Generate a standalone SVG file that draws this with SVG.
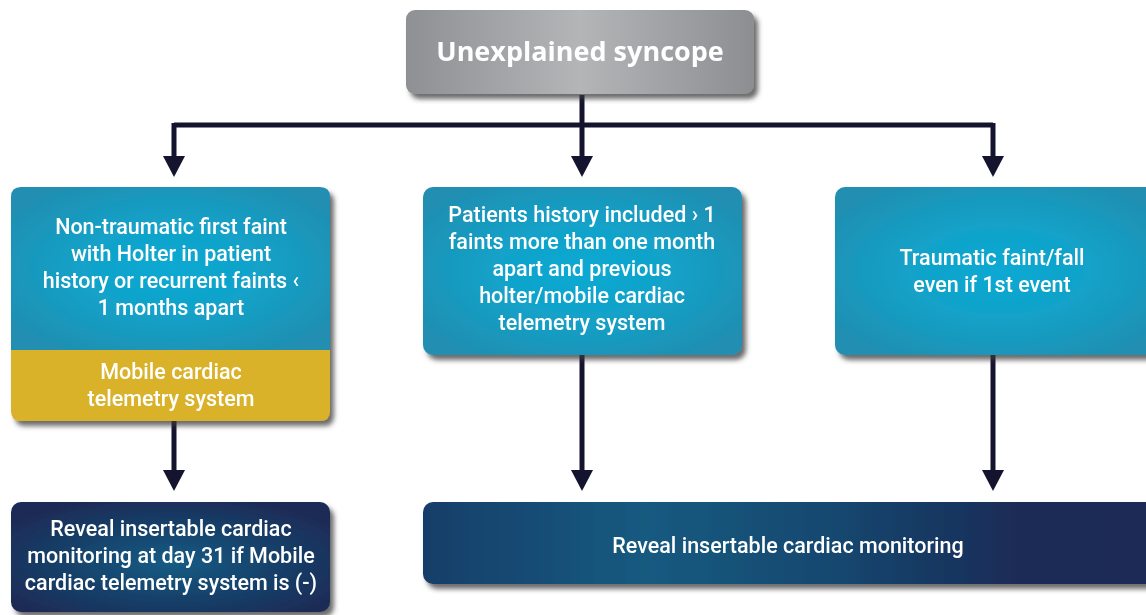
<svg xmlns="http://www.w3.org/2000/svg" width="1146" height="615" viewBox="0 0 1146 615">
<defs>
<style>
.t{font-family:Roboto,"Liberation Sans",sans-serif;font-weight:500;font-size:21.5px;fill:#ffffff;text-anchor:middle}
.title{font-family:"Open Sans","Liberation Sans",sans-serif;font-weight:700;font-size:27px;fill:#ffffff;text-anchor:middle}
.con{fill:none;stroke:#14142e;stroke-width:5}
</style>
<filter id="sh" x="-10%" y="-10%" width="125%" height="130%">
<feDropShadow dx="4" dy="5" stdDeviation="2.5" flood-color="#3a3a3a" flood-opacity="0.75"/>
</filter>
<linearGradient id="gray" x1="0" y1="0" x2="1" y2="0">
<stop offset="0" stop-color="#8e9093"/>
<stop offset="0.5" stop-color="#b4b5b7"/>
<stop offset="1" stop-color="#8c8e91"/>
</linearGradient>
<radialGradient id="blue" cx="0.5" cy="0.5" r="0.6">
<stop offset="0" stop-color="#0ba9d3"/>
<stop offset="0.45" stop-color="#12a2c9"/>
<stop offset="1" stop-color="#208fb2"/>
</radialGradient>
<radialGradient id="navy" cx="0.5" cy="0.55" r="0.6">
<stop offset="0" stop-color="#135c84"/>
<stop offset="0.5" stop-color="#17436c"/>
<stop offset="1" stop-color="#1b2c57"/>
</radialGradient>
<linearGradient id="navyw" x1="0" y1="0" x2="1" y2="0">
<stop offset="0" stop-color="#183e69"/>
<stop offset="0.3" stop-color="#125a80"/>
<stop offset="0.55" stop-color="#134870"/>
<stop offset="0.8" stop-color="#1b2c57"/>
<stop offset="1" stop-color="#1c2b55"/>
</linearGradient>
<marker id="ah" viewBox="0 0 22 22" markerUnits="userSpaceOnUse" markerWidth="22" markerHeight="22" refX="10" refY="11" orient="auto">
<path d="M0,0 L21,11 L0,22 Z" fill="#14142e"/>
</marker>
</defs>
<rect width="1146" height="615" fill="#ffffff"/>

<g id="connectors">
<path class="con" d="M174,125 H993"/>
<path class="con" d="M582,95 V166" marker-end="url(#ah)"/>
<path class="con" d="M174,123 V166" marker-end="url(#ah)"/>
<path class="con" d="M993,123 V166" marker-end="url(#ah)"/>
<path class="con" d="M174,420 V480" marker-end="url(#ah)"/>
<path class="con" d="M582,355 V480" marker-end="url(#ah)"/>
<path class="con" d="M993,355 V480" marker-end="url(#ah)"/>
</g>

<g id="n-start" filter="url(#sh)">
<rect x="406" y="10" width="348" height="84" rx="9" fill="url(#gray)"/>
<text class="title" x="580" y="61">Unexplained syncope</text>
</g>

<g id="n-left" filter="url(#sh)">
<path d="M11,350 V197 Q11,187 21,187 H320 Q330,187 330,197 V350 Z" fill="url(#blue)"/>
<path d="M11,350 H330 V411 Q330,421 320,421 H21 Q11,421 11,411 Z" fill="#dab22a"/>
<text class="t" x="171" y="234">Non-traumatic first faint</text>
<text class="t" x="171" y="261">with Holter in patient</text>
<text class="t" x="171" y="288">history or recurrent faints ‹</text>
<text class="t" x="171" y="315">1 months apart</text>
<text class="t" x="171" y="379">Mobile cardiac</text>
<text class="t" x="171" y="406">telemetry system</text>
</g>

<g id="n-mid" filter="url(#sh)">
<rect x="423" y="187" width="319" height="168" rx="10" fill="url(#blue)"/>
<text class="t" x="582" y="222">Patients history included › 1</text>
<text class="t" x="582" y="249">faints more than one month</text>
<text class="t" x="582" y="276">apart and previous</text>
<text class="t" x="582" y="303">holter/mobile cardiac</text>
<text class="t" x="582" y="330">telemetry system</text>
</g>

<g id="n-right" filter="url(#sh)">
<rect x="835" y="187" width="330" height="168" rx="10" fill="url(#blue)"/>
<text class="t" x="992" y="265">Traumatic faint/fall</text>
<text class="t" x="992" y="292">even if 1st event</text>
</g>

<g id="n-bottom-left" filter="url(#sh)">
<rect x="11" y="502" width="319" height="110" rx="10" fill="url(#navy)"/>
<text class="t" x="171" y="536">Reveal insertable cardiac</text>
<text class="t" x="171" y="563">monitoring at day 31 if Mobile</text>
<text class="t" x="171" y="590">cardiac telemetry system is (-)</text>
</g>

<g id="n-bottom-right" filter="url(#sh)">
<rect x="423" y="502" width="740" height="82" rx="10" fill="url(#navyw)"/>
<text class="t" x="788" y="553">Reveal insertable cardiac monitoring</text>
</g>
</svg>
